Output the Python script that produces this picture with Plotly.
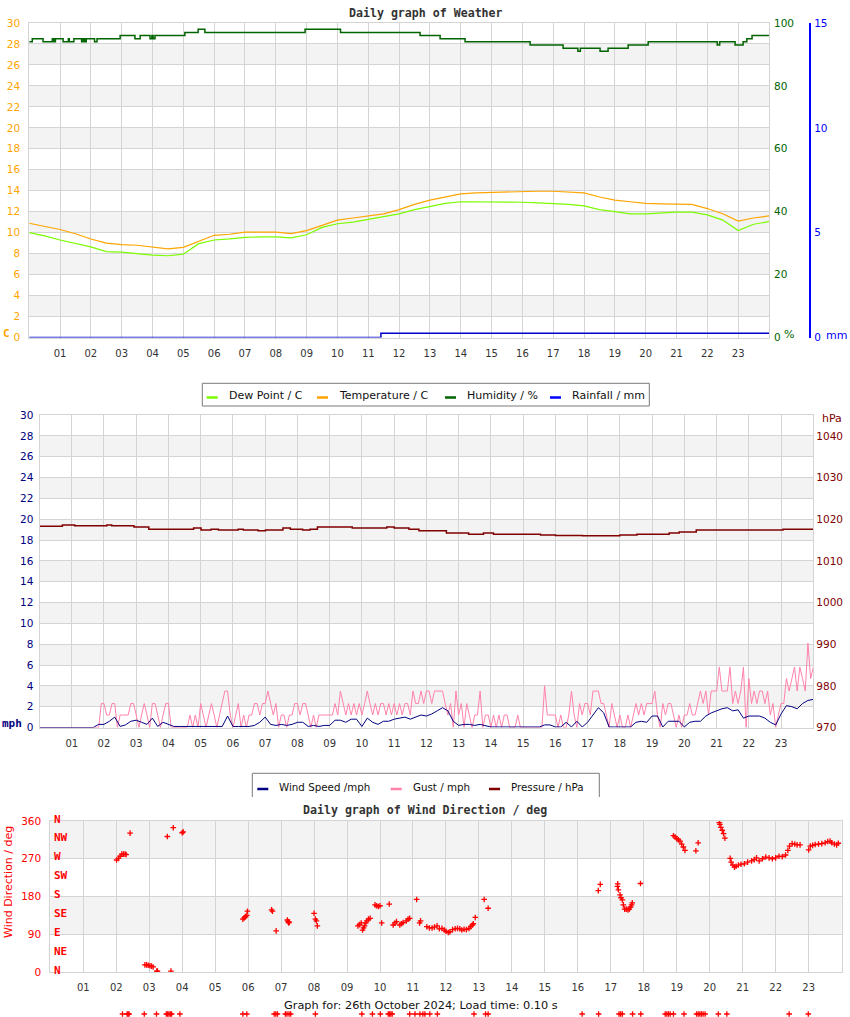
import plotly.graph_objects as go

W, H = 850, 1017
def fx(x): return x / W
def fy(y): return 1 - y / H

# ---------------- data ----------------
hour_ticks = list(range(1, 24))
hour_labels = [f"{h:02d}" for h in hour_ticks]

half_hours = [i * 0.5 for i in range(49)]
temperature = [10.9, 10.6, 10.3, 9.9, 9.4, 9.0, 8.85, 8.8, 8.6, 8.45, 8.6, 9.15, 9.75, 9.85,
               10.05, 10.05, 10.05, 9.9, 10.2, 10.7, 11.2, 11.4, 11.6, 11.8, 12.2, 12.7, 13.1,
               13.4, 13.7, 13.8, 13.85, 13.9, 13.95, 13.95, 13.95, 13.9, 13.8, 13.4, 13.1, 12.95,
               12.8, 12.75, 12.75, 12.7, 12.3, 11.8, 11.1, 11.4, 11.6]
dew_point = [10.0, 9.7, 9.3, 9.0, 8.65, 8.2, 8.15, 8.0, 7.85, 7.8, 7.95, 8.95, 9.3, 9.4,
             9.55, 9.6, 9.6, 9.5, 9.8, 10.5, 10.85, 11.0, 11.25, 11.5, 11.8, 12.2, 12.5,
             12.8, 12.95, 12.95, 12.95, 12.95, 12.9, 12.85, 12.8, 12.7, 12.55, 12.2, 12.0, 11.8,
             11.8, 11.9, 11.95, 11.95, 11.7, 11.2, 10.2, 10.8, 11.05]

hum_hours = [0, 0.1, 0.45, 0.75, 0.8, 0.85, 1.1, 1.27, 1.3, 1.45, 1.7, 1.75, 1.8, 1.85, 2.12,
             2.2, 2.95, 3.43, 3.6, 3.92, 3.98, 4.02, 4.08, 5.05, 5.48, 5.7, 8.95, 10.1, 12.68,
             13.33, 14.14, 16.25, 17.32, 17.8, 17.88, 18.52, 18.78, 19.43, 20.08, 22.32, 22.4,
             22.9, 23.16, 23.28, 23.45, 24]
humidity = [94, 95, 94, 95, 94, 95, 94, 95, 94, 95, 94, 95, 94, 95, 94,
            95, 96, 95, 96, 95, 96, 95, 96, 97, 98, 97, 98, 97, 96,
            95, 94, 93, 92, 91, 92, 91, 92, 93, 94, 93, 94,
            93, 94, 95, 96, 96]

rain_hours = [0, 11.41, 24]
rainfall = [0, 0.2, 0.2]

press_hours = [0, 0.71, 1.09, 2.09, 2.24, 2.93, 3.39, 4.78, 5.01, 5.32, 5.55, 6.16, 6.32, 6.78,
               7.01, 7.55, 7.78, 8.16, 8.39, 8.62, 9.7, 10.77, 11.0, 11.46, 11.77, 12.62, 13.31,
               13.77, 14.08, 15.54, 16.0, 16.84, 18.0, 18.53, 19.53, 19.84, 20.37, 23.06, 24]
pressure = [1018.3, 1018.6, 1018.4, 1018.6, 1018.4, 1018.1, 1017.6, 1017.9, 1017.4, 1017.6,
            1017.4, 1017.6, 1017.4, 1017.2, 1017.4, 1017.9, 1017.6, 1017.4, 1017.6, 1018.1,
            1017.9, 1018.1, 1017.9, 1017.6, 1017.2, 1016.7, 1016.4, 1016.7, 1016.4, 1016.2,
            1016.1, 1016.0, 1016.2, 1016.4, 1016.7, 1016.9, 1017.4, 1017.6, 1017.6]

speed_hours = [i / 6 for i in range(145)]
wind_speed = [
    0, 0, 0, 0, 0, 0,
    0, 0, 0, 0, 0, 0.3,
    0.3, 0.6, 1.0, 0.1, 0.25, 0.6,
    0.7, 0.5, 0.3, 0.9, 0.1, 0.5,
    0.3, 0.1, 0.1, 0.1, 0.1, 0.1,
    0.1, 0.1, 0.1, 0.1, 0.1, 1.1,
    0.1, 0.1, 0.1, 0.1, 0.2, 0.5,
    1.0, 0.3, 0.2, 0.3, 0.2, 0.3,
    0.5, 0.5, 0.1, 0.2, 0.1, 0.2,
    0.2, 0.7, 0.7, 0.5, 0.8, 0.8,
    0.1, 0.9, 0.5, 0.3, 0.6, 0.6,
    0.8, 0.9, 1.0, 0.8, 1.0, 1.2,
    1.1, 1.3, 1.6, 1.9, 1.6, 0.6,
    0.2, 0.3, 0.3, 0.2, 0.3, 0.2,
    0.05, 0.05, 0.05, 0.05, 0.05, 0.05,
    0.05, 0.05, 0.05, 0.05, 0.25, 0.25,
    0.05, 0.05, 0.5, 0.05, 0.6, 0.05,
    0.5, 1.2, 1.9, 1.4, 0.05, 0.05,
    0.05, 0.05, 0.05, 0.5, 0.6, 0.5,
    1.1, 1.1, 0.05, 0.6, 0.6, 0.6,
    0.05, 0.5, 0.6, 0.6, 1.1, 1.4,
    1.6, 1.8, 1.9, 1.6, 1.7, 0.9,
    1.1, 1.1, 1.1, 0.9, 0.5, 0.25,
    1.3, 2.1, 2.0, 1.8, 2.3, 2.6,
    2.7]

gust_hours = [i / 12 for i in range(289)]
gust = [
    0, 0, 0, 0, 0, 0, 0, 0, 0, 0, 0, 0,
    0, 0, 0, 0, 0, 0, 0, 0, 0, 0, 0, 2.3,
    2.3, 1.2, 1.2, 2.3, 2.3, 0, 1.2, 1.2, 1.2, 1.2, 2.3, 2.3,
    1.2, 0, 1.2, 2.3, 1.2, 0, 2.3, 2.3, 1.2, 0, 1.2, 2.3,
    2.3, 0, 0, 0, 0, 0, 0, 0, 1.2, 0, 1.2, 0,
    2.3, 1.2, 0, 1.2, 2.3, 1.2, 0, 1.2, 2.3, 3.5, 3.5, 1.2,
    0, 1.2, 2.3, 0, 1.2, 0, 1.2, 1.2, 2.3, 2.3, 1.2, 2.3,
    2.3, 3.5, 2.3, 1.2, 2.3, 0, 1.2, 1.2, 0, 1.2, 1.2, 2.3,
    2.3, 1.2, 2.3, 2.3, 1.2, 0, 1.2, 0, 1.2, 1.2, 1.2, 1.2,
    1.2, 1.2, 2.3, 1.2, 3.5, 2.3, 1.2, 2.3, 1.2, 2.3, 1.2, 2.3,
    1.2, 2.3, 3.5, 2.3, 1.2, 2.3, 1.2, 2.3, 2.3, 1.2, 2.3, 1.2,
    2.3, 1.2, 2.3, 1.2, 2.3, 2.3, 1.2, 3.5, 2.3, 2.3, 3.5, 2.3,
    3.5, 3.5, 2.3, 3.5, 3.5, 3.5, 3.5, 2.3, 1.2, 2.3, 0, 3.5,
    1.2, 2.3, 0, 2.3, 1.2, 0, 1.2, 1.2, 3.5, 0, 1.2, 1.2,
    0, 1.2, 0, 1.2, 0, 1.2, 1.2, 0, 0, 0, 1.2, 0,
    0, 0, 0, 0, 0, 0, 0, 0, 4.0, 1.2, 1.2, 1.2,
    1.2, 0, 1.2, 0, 0, 1.2, 3.5, 1.2, 0, 2.3, 1.2, 2.3,
    2.3, 1.2, 3.5, 3.5, 3.5, 2.3, 2.3, 1.2, 0, 2.3, 1.2, 0,
    1.2, 0, 0, 1.2, 0, 1.2, 2.3, 1.2, 2.3, 1.2, 2.3, 2.3,
    2.3, 3.5, 1.2, 0, 2.3, 1.2, 2.3, 2.3, 1.2, 0, 1.2, 0,
    1.2, 1.2, 2.3, 1.2, 1.2, 2.3, 3.5, 2.3, 3.5, 1.2, 3.5, 3.5,
    3.5, 5.8, 3.5, 3.5, 3.5, 5.8, 2.3, 3.5, 2.3, 3.5, 5.8, 0,
    4.7, 2.3, 3.5, 2.3, 3.5, 3.5, 2.3, 3.5, 1.2, 2.3, 0, 1.2,
    2.3, 2.3, 4.7, 3.5, 4.7, 5.8, 3.5, 5.8, 4.7, 3.5, 8.1, 4.7,
    5.8]

dir_hours = [2.01, 2.07, 2.12, 2.17, 2.22, 2.27, 2.3, 2.42,
             2.87, 2.92, 2.97, 3.02, 3.07, 3.12, 3.23, 3.25,
             3.55, 3.66, 3.73, 4.0, 4.03,
             5.84, 5.88, 5.92, 5.96, 5.98,
             6.71, 6.74, 6.85,
             7.19, 7.21, 7.23, 7.25,
             8.0, 8.04, 8.07, 8.1,
             9.33, 9.38, 9.43, 9.47, 9.5, 9.53, 9.57, 9.6, 9.65, 9.7,
             9.85, 9.9, 9.95, 10.0, 10.05, 10.28,
             10.4, 10.45, 10.5, 10.6, 10.65, 10.7, 10.8, 10.85, 10.9,
             11.11, 11.2, 11.23,
             11.42, 11.5, 11.58, 11.65, 11.73, 11.8, 11.88, 11.95, 12.0, 12.07, 12.12, 12.2,
             12.28, 12.35, 12.42, 12.48, 12.55, 12.62, 12.7, 12.75, 12.8, 12.83, 12.89,
             13.16, 13.28,
             16.62, 16.68,
             17.2, 17.21, 17.23, 17.28, 17.31, 17.35, 17.38, 17.42, 17.47, 17.52, 17.56, 17.6,
             17.63, 17.65, 17.9,
             18.9, 18.95, 19.0, 19.05, 19.1, 19.15, 19.2, 19.25, 19.58, 19.65,
             20.29, 20.31, 20.34, 20.38, 20.42, 20.46, 20.62,
             20.65, 20.7, 20.75, 20.8, 20.87, 20.95, 21.05, 21.15, 21.27, 21.35, 21.42, 21.5,
             21.6, 21.7, 21.8, 21.9, 22.0, 22.1, 22.2, 22.3, 22.37, 22.42, 22.5, 22.58, 22.65,
             22.74, 23.0, 23.05, 23.12, 23.2, 23.3, 23.4, 23.5, 23.58, 23.65, 23.7, 23.78,
             23.85, 23.9]
wind_dir = [267, 271, 276, 281, 281, 281, 280, 331,
            17, 17, 16, 15, 14, 12, 2, 2,
            323, 2, 344, 332, 334,
            126, 129, 132, 135, 145,
            148, 145, 98,
            124, 120, 117, 119,
            140, 126, 122, 110,
            110, 113, 117, 100, 105, 110, 117, 122, 126, 128,
            160, 158, 156, 158, 117, 162,
            112, 117, 120, 112, 115, 118, 122, 126, 128,
            173, 117, 122,
            108, 105, 105, 107, 110, 103, 104, 100, 97, 94, 96, 101,
            103, 104, 103, 100, 102, 101, 104, 108, 112, 115, 130,
            173, 152,
            194, 209,
            204, 210, 196, 184, 177, 172, 160, 150, 150, 148, 150, 155,
            160, 165, 211,
            325, 322, 318, 315, 312, 305, 298, 290, 289, 308,
            356, 352, 345, 338, 330, 319, 271,
            262, 255, 250, 252, 255, 257, 258, 262, 265, 268, 272, 265,
            270, 274, 272, 270, 272, 276, 275, 279, 290, 300, 306, 305, 303,
            303, 291, 300, 302, 304, 305, 306, 308, 311, 312, 308, 305,
            303, 307]

# samples drawn below the wind-direction chart in the original page
stray_hours = [2.19, 2.33, 2.36, 2.39, 2.85, 3.22, 3.52, 3.56, 3.6, 3.64, 3.68, 3.93, 5.84,
               5.96, 6.79, 6.84, 6.89, 7.13, 7.18, 7.24, 7.29, 8.04, 9.45, 9.77, 10.01, 10.25,
               10.29, 10.33, 10.37, 10.9, 11.06, 11.21, 11.3, 11.36, 11.51, 11.74, 12.85, 13.2,
               13.28, 16.13, 16.63, 17.25, 17.3, 17.35, 17.66, 17.91, 18.65, 18.7, 18.75, 18.8,
               18.9, 19.22, 19.6, 19.65, 19.7, 19.75, 19.8, 19.86, 20.26, 20.52, 22.41, 22.99]
stray_level = [0] * len(stray_hours)

temp_ticks = list(range(0, 31, 2))
hum_ticks = list(range(0, 101, 20))
rain_ticks = [0, 5, 10, 15]
press_ticks = list(range(970, 1041, 10))
dir_ticks = [0, 90, 180, 270, 360]
compass = ["N", "NE", "E", "SE", "S", "SW", "W", "NW", "N"]
compass_deg = [0, 45, 90, 135, 180, 225, 270, 315, 360]

# ---------------- colours ----------------
C_DEW = "#7cfc00"
C_TEMP = "#ffa500"
C_HUM = "#006400"
C_RAIN = "#0000ff"
C_SPEED = "#000080"
C_GUST = "#ff82a9"
C_PRESS = "#800000"
C_DIR = "#ff0000"
GRID = "#d4d4d4"
BAND = "#f3f3f3"
TXT = "#333333"
FONT = "DejaVu Sans"
MONO = "DejaVu Sans Mono"

fig = go.Figure()

# panel 1
fig.add_trace(go.Scatter(x=half_hours, y=dew_point, mode="lines", line=dict(color=C_DEW, width=1.2),
                         xaxis="x", yaxis="y", name="Dew Point / C"))
fig.add_trace(go.Scatter(x=half_hours, y=temperature, mode="lines", line=dict(color=C_TEMP, width=1.2),
                         xaxis="x", yaxis="y", name="Temperature / C"))
fig.add_trace(go.Scatter(x=hum_hours, y=humidity, mode="lines", line=dict(color=C_HUM, width=1.5, shape="hv"),
                         xaxis="x", yaxis="y2", name="Humidity / %"))
fig.add_trace(go.Scatter(x=rain_hours, y=rainfall, mode="lines", line=dict(color="#0000cc", width=1.5, shape="hv"),
                         xaxis="x", yaxis="y3", name="Rainfall / mm"))
# panel 2
fig.add_trace(go.Scatter(x=gust_hours, y=gust, mode="lines", line=dict(color=C_GUST, width=1),
                         xaxis="x2", yaxis="y4", name="Gust / mph"))
fig.add_trace(go.Scatter(x=speed_hours, y=wind_speed, mode="lines", line=dict(color=C_SPEED, width=1),
                         xaxis="x2", yaxis="y4", name="Wind Speed /mph"))
fig.add_trace(go.Scatter(x=press_hours, y=pressure, mode="lines", line=dict(color=C_PRESS, width=1.5, shape="hv"),
                         xaxis="x2", yaxis="y5", name="Pressure / hPa"))
# panel 3
cross = dict(symbol="cross-thin", size=4, color=C_DIR, line=dict(width=1.3, color=C_DIR))
fig.add_trace(go.Scatter(x=dir_hours, y=wind_dir, mode="markers", marker=cross,
                         xaxis="x3", yaxis="y6", name="Wind Direction"))
fig.add_trace(go.Scatter(x=stray_hours, y=stray_level, mode="markers", marker=cross, cliponaxis=False,
                         xaxis="x4", yaxis="y7", name="stray"))

def xaxis_cfg(x0, x1, anchor, labels=True):
    return dict(domain=[fx(x0), fx(x1)], range=[0, 24], anchor=anchor,
                tickvals=hour_ticks, ticktext=hour_labels, ticks="", showticklabels=labels,
                tickfont=dict(family=FONT, size=10, color=TXT),
                showgrid=labels, gridcolor=GRID, gridwidth=1, zeroline=False,
                showline=labels, mirror=True, linecolor=GRID, linewidth=1,
                ticklabelstandoff=6, fixedrange=True, automargin=False)

P1 = (29.2, 769.0, 23.0, 337.5)
P2 = (39.5, 813.3, 415.0, 727.5)
P3 = (50.3, 841.6, 821.0, 972.0)

layout = dict(
    width=W, height=H, autosize=False,
    margin=dict(l=0, r=0, t=0, b=0, pad=0),
    paper_bgcolor="white", plot_bgcolor="white",
    showlegend=False,
    font=dict(family=FONT, size=10, color=TXT),
    xaxis=xaxis_cfg(P1[0], P1[1], "y"),
    xaxis2=xaxis_cfg(P2[0], P2[1], "y4"),
    xaxis3=xaxis_cfg(P3[0], P3[1], "y6"),
    xaxis4=dict(xaxis_cfg(P3[0], P3[1], "y7", labels=False), matches="x3"),
    yaxis=dict(domain=[fy(P1[3]), fy(P1[2])], range=[0, 30], anchor="x",
               tickvals=temp_ticks, ticks="", tickfont=dict(size=10.5, color=C_TEMP),
               showgrid=True, gridcolor=GRID, zeroline=False, showline=True, mirror=True,
               linecolor=GRID, ticklabelstandoff=6, fixedrange=True, automargin=False),
    yaxis2=dict(overlaying="y", side="right", anchor="x", range=[0, 100], tickvals=hum_ticks,
                ticks="", tickfont=dict(size=10.5, color=C_HUM), showgrid=False, zeroline=False,
                showline=False, ticklabelstandoff=4, fixedrange=True, automargin=False),
    yaxis3=dict(overlaying="y", side="right", anchor="free", position=fx(810.3), range=[0, 15],
                tickvals=rain_ticks, ticks="", tickfont=dict(size=10.5, color=C_RAIN),
                showgrid=False, zeroline=False, showline=True, linecolor=C_RAIN, linewidth=1.5,
                ticklabelstandoff=1, fixedrange=True, automargin=False),
    yaxis4=dict(domain=[fy(P2[3]), fy(P2[2])], range=[0, 30], anchor="x2",
                tickvals=temp_ticks, ticks="", tickfont=dict(size=10.5, color=C_SPEED),
                showgrid=True, gridcolor=GRID, zeroline=False, showline=True, mirror=True,
                linecolor=GRID, ticklabelstandoff=3, fixedrange=True, automargin=False),
    yaxis5=dict(overlaying="y4", side="right", anchor="x2", range=[970, 1045], tickvals=press_ticks,
                ticks="", tickfont=dict(size=10.5, color=C_PRESS), showgrid=False, zeroline=False,
                showline=False, ticklabelstandoff=2, fixedrange=True, automargin=False),
    yaxis6=dict(domain=[fy(P3[3]), fy(P3[2])], range=[0, 360], anchor="x3",
                tickvals=dir_ticks, ticks="", tickfont=dict(size=10.5, color=C_DIR),
                showgrid=True, gridcolor=GRID, zeroline=False, showline=True, mirror=True,
                linecolor=GRID, ticklabelstandoff=6, fixedrange=True, automargin=False),
    yaxis7=dict(domain=[fy(1017), fy(1011)], range=[-1, 1], anchor="x4", visible=False,
                fixedrange=True, automargin=False),
)
fig.update_layout(**layout)

shapes = []
for k in range(7):
    for xr, yr in (("x domain", "y"), ("x2 domain", "y4")):
        shapes.append(dict(type="rect", xref=xr, yref=yr, x0=0, x1=1, y0=4 * k + 2, y1=4 * k + 4,
                           fillcolor=BAND, line=dict(width=0), layer="below"))
for lo in (90, 270):
    shapes.append(dict(type="rect", xref="x3 domain", yref="y6", x0=0, x1=1, y0=lo, y1=lo + 90,
                       fillcolor=BAND, line=dict(width=0), layer="below"))

# legend 1 box
shapes.append(dict(type="rect", xref="paper", yref="paper", x0=fx(202.3), x1=fx(649.3),
                   y0=fy(406), y1=fy(383.3), line=dict(color="#7a7a7a", width=1), fillcolor="white"))
# legend 2 box (three sides)
for (a, b, c, d) in ((252.3, 797, 252.3, 773.3), (252.3, 773.3, 599.3, 773.3), (599.3, 773.3, 599.3, 797)):
    shapes.append(dict(type="line", xref="paper", yref="paper", x0=fx(a), y0=fy(b), x1=fx(c), y1=fy(d),
                       line=dict(color="#7a7a7a", width=1)))

annotations = []
def text(x, y, s, size=11, color=TXT, family=FONT, xanchor="left", yanchor="middle", angle=0):
    annotations.append(dict(x=fx(x), y=fy(y), xref="paper", yref="paper", text=s, showarrow=False,
                            xanchor=xanchor, yanchor=yanchor, textangle=angle,
                            font=dict(family=family, size=size, color=color)))

legend1 = [("Dew Point / C", C_DEW, 206.7, 227), ("Temperature / C", C_TEMP, 317, 337),
           ("Humidity / %", C_HUM, 445, 465), ("Rainfall / mm", C_RAIN, 550, 570)]
for name, col, lx, tx in legend1:
    shapes.append(dict(type="line", xref="paper", yref="paper", x0=fx(lx), x1=fx(lx + 11),
                       y0=fy(397.5), y1=fy(397.5), line=dict(color=col, width=2.5)))
    text(tx, 395.5, name, size=11, color="#111")

legend2 = [("Wind Speed /mph", C_SPEED, 257.3, 276.7), ("Gust / mph", C_GUST, 390.7, 411),
           ("Pressure / hPa", C_PRESS, 489, 509.3)]
for name, col, lx, tx in legend2:
    shapes.append(dict(type="line", xref="paper", yref="paper", x0=fx(lx), x1=fx(lx + 11),
                       y0=fy(789), y1=fy(789), line=dict(color=col, width=2.5)))
    text(tx, 787, name, size=10.3, color="#111")

fig.update_layout(shapes=shapes)

text(425.5, 12.5, "<b>Daily graph of Weather</b>", size=11.6, family=MONO, xanchor="center")
text(425, 810, "<b>Daily graph of Wind Direction / deg</b>", size=11.6, family=MONO, xanchor="center")
text(6, 333, "<b>C</b>", size=11, color=C_TEMP, family=MONO, xanchor="center")
text(789, 334, "%", size=11, color=C_HUM, xanchor="center")
text(836, 335, "mm", size=11, color=C_RAIN, xanchor="center")
text(12, 723, "<b>mph</b>", size=11, color=C_SPEED, family=MONO, xanchor="center")
text(832, 418, "hPa", size=11, color=C_PRESS, xanchor="center")
text(8, 882, "Wind Direction / deg", size=11, color=C_DIR, xanchor="center", angle=-90)
text(421, 1005, "Graph for: 26th October 2024; Load time: 0.10 s", size=11.3, color="#111",
     xanchor="center")

for lab, deg in zip(compass, compass_deg):
    annotations.append(dict(x=fx(51.5), y=deg, xref="paper", yref="y6", text=f"<b>{lab}</b>",
                            showarrow=False, xanchor="left", yanchor="middle", yshift=2,
                            font=dict(family=MONO, size=11, color=C_DIR)))

fig.update_layout(annotations=annotations)

fig.write_html("out.html", config={"displayModeBar": False})
